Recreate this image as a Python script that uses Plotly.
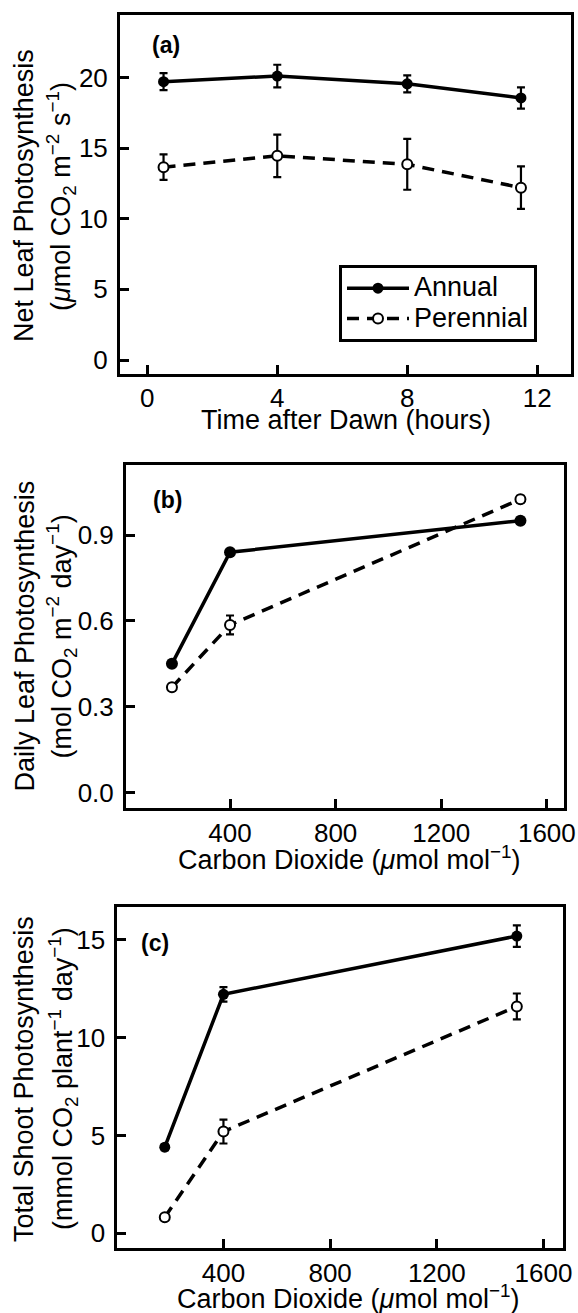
import plotly.graph_objects as go

# ---------------- data ----------------
time_hours = [0.5, 4, 8, 11.5]
a_annual = [19.7, 20.1, 19.55, 18.55]
a_annual_err = [0.6, 0.8, 0.6, 0.75]
a_perennial = [13.65, 14.45, 13.85, 12.2]
a_perennial_err = [0.9, 1.5, 1.8, 1.5]

co2 = [180, 400, 1500]
b_annual = [0.45, 0.84, 0.95]
b_annual_err = [0.01, 0.01, 0.01]
b_perennial = [0.368, 0.586, 1.025]
b_perennial_err = [0.012, 0.033, 0.012]

c_annual = [4.4, 12.22, 15.2]
c_annual_err = [0.15, 0.37, 0.55]
c_perennial = [0.82, 5.2, 11.6]
c_perennial_err = [0.1, 0.61, 0.66]

a_xticks = [0, 4, 8, 12]
a_yticks = [0, 5, 10, 15, 20]
b_xticks = [400, 800, 1200, 1600]
b_yticks = [0.0, 0.3, 0.6, 0.9]
b_yticklabels = ["0.0", "0.3", "0.6", "0.9"]
c_xticks = [400, 800, 1200, 1600]
c_yticks = [0, 5, 10, 15]

series_names = ["Annual", "Perennial"]

W, H = 578, 1313
FONT = "Liberation Sans, Arial, Helvetica, sans-serif"
TICKFS = 26
TITLEFS = 27


def px_x(p):
    return p / W


def px_y(p):
    return 1 - p / H


fig = go.Figure()


def legend_name(n):
    return "<span style='font-size:27px'>%s</span>" % n


def add_pair(xs, ya, ea, yp, ep, xa, yaxis, show, msize_a=11, msize_p=10):
    fig.add_trace(go.Scatter(
        x=xs, y=ya, name=legend_name(series_names[0]), mode="lines+markers",
        line=dict(color="black", width=3.5),
        marker=dict(symbol="circle", size=msize_a, color="black"),
        error_y=dict(type="data", array=ea, visible=True, thickness=2.2, width=4, color="black"),
        xaxis=xa, yaxis=yaxis, showlegend=show, legendrank=1,
    ))
    fig.add_trace(go.Scatter(
        x=xs, y=yp, name=legend_name(series_names[1]), mode="lines+markers",
        line=dict(color="black", width=3.5, dash="12px,8px"),
        marker=dict(symbol="circle", size=msize_p, color="white", line=dict(color="black", width=2)),
        error_y=dict(type="data", array=ep, visible=True, thickness=2.2, width=4, color="black"),
        xaxis=xa, yaxis=yaxis, showlegend=show, legendrank=2,
    ))


add_pair(time_hours, a_annual, a_annual_err, a_perennial, a_perennial_err, "x", "y", True)
add_pair(co2, b_annual, b_annual_err, b_perennial, b_perennial_err, "x2", "y2", False, 12, 10)
add_pair(co2, c_annual, c_annual_err, c_perennial, c_perennial_err, "x3", "y3", False, 11, 10)

axis_common = dict(
    showline=True, linewidth=3, linecolor="black", mirror=True,
    ticks="inside", ticklen=9, tickwidth=3, tickcolor="black",
    showgrid=False, zeroline=False, automargin=False,
    tickfont=dict(family=FONT, size=TICKFS, color="black"),
)

# panel domains (pixels)
dom = {
    "a": (120, 571, 15, 374),
    "b": (126, 564, 465, 808.3),
    "c": (117.3, 562.7, 906.7, 1248.3),
}


def xd(k):
    l, r, t, b = dom[k]
    return [px_x(l), px_x(r)]


def yd(k):
    l, r, t, b = dom[k]
    return [px_y(b), px_y(t)]


XSO = -1
YSO = 4

fig.update_layout(
    width=W, height=H,
    margin=dict(l=0, r=0, t=0, b=0),
    paper_bgcolor="white", plot_bgcolor="white",
    font=dict(family=FONT, color="black"),
    xaxis=dict(axis_common, domain=xd("a"), anchor="y", range=[-0.84, 13.04],
               tickmode="array", tickvals=a_xticks, ticklabelstandoff=XSO),
    yaxis=dict(axis_common, domain=yd("a"), anchor="x", range=[-0.99, 24.42],
               tickmode="array", tickvals=a_yticks, ticklabelstandoff=YSO),
    xaxis2=dict(axis_common, domain=xd("b"), anchor="y2", range=[6, 1665],
                tickmode="array", tickvals=b_xticks, ticklabelstandoff=XSO),
    yaxis2=dict(axis_common, domain=yd("b"), anchor="x2", range=[-0.0545, 1.1446],
                tickmode="array", tickvals=b_yticks, ticktext=b_yticklabels, ticklabelstandoff=YSO),
    xaxis3=dict(axis_common, domain=xd("c"), anchor="y3", range=[2, 1672],
                tickmode="array", tickvals=c_xticks, ticklabelstandoff=XSO),
    yaxis3=dict(axis_common, domain=yd("c"), anchor="x3", range=[-0.77, 16.7],
                tickmode="array", tickvals=c_yticks, ticklabelstandoff=YSO),
    legend=dict(
        x=px_x(438), y=px_y(303.5), xanchor="center", yanchor="middle",
        bgcolor="white", bordercolor="black", borderwidth=3,
        font=dict(family=FONT, size=21, color="black"),
        tracegroupgap=0, itemwidth=62,
    ),
)


def ann(text, xpx, ypx, size=TITLEFS, angle=0, bold=False):
    fig.add_annotation(
        text=("<b>%s</b>" % text) if bold else text,
        x=px_x(xpx), y=px_y(ypx), xref="paper", yref="paper",
        xanchor="center", yanchor="middle", showarrow=False,
        textangle=angle, font=dict(family=FONT, size=size, color="black"),
    )


# panel labels
ann("(a)", 166, 45, size=23, bold=True)
ann("(b)", 167, 500, size=23, bold=True)
ann("(c)", 155, 943, size=23, bold=True)

# x axis titles
ann("Time after Dawn (hours)", 345.5, 420)
ann("Carbon Dioxide (<i>μ</i>mol mol<sup>−1</sup>)", 348.5, 858)
ann("Carbon Dioxide (<i>μ</i>mol mol<sup>−1</sup>)", 348, 1297)

# y axis titles (two lines each)
ann("Net Leaf Photosynthesis", 24, 196, angle=-90)
ann("(<i>μ</i>mol CO<sub>2</sub> m<sup>−2</sup> s<sup>−1</sup>)", 61, 196, angle=-90)
ann("Daily Leaf Photosynthesis", 24, 636.5, angle=-90)
ann("(mol CO<sub>2</sub> m<sup>−2</sup> day<sup>−1</sup>)", 61, 636.5, angle=-90)
ann("Total Shoot Photosynthesis", 24, 1079, angle=-90)
ann("(mmol CO<sub>2</sub> plant<sup>−1</sup> day<sup>−1</sup>)", 63, 1079, angle=-90)

fig.write_html(
    "out.html",
    config={"displayModeBar": False},
    post_script="document.body.style.margin='0';document.body.style.overflow='hidden';",
)
